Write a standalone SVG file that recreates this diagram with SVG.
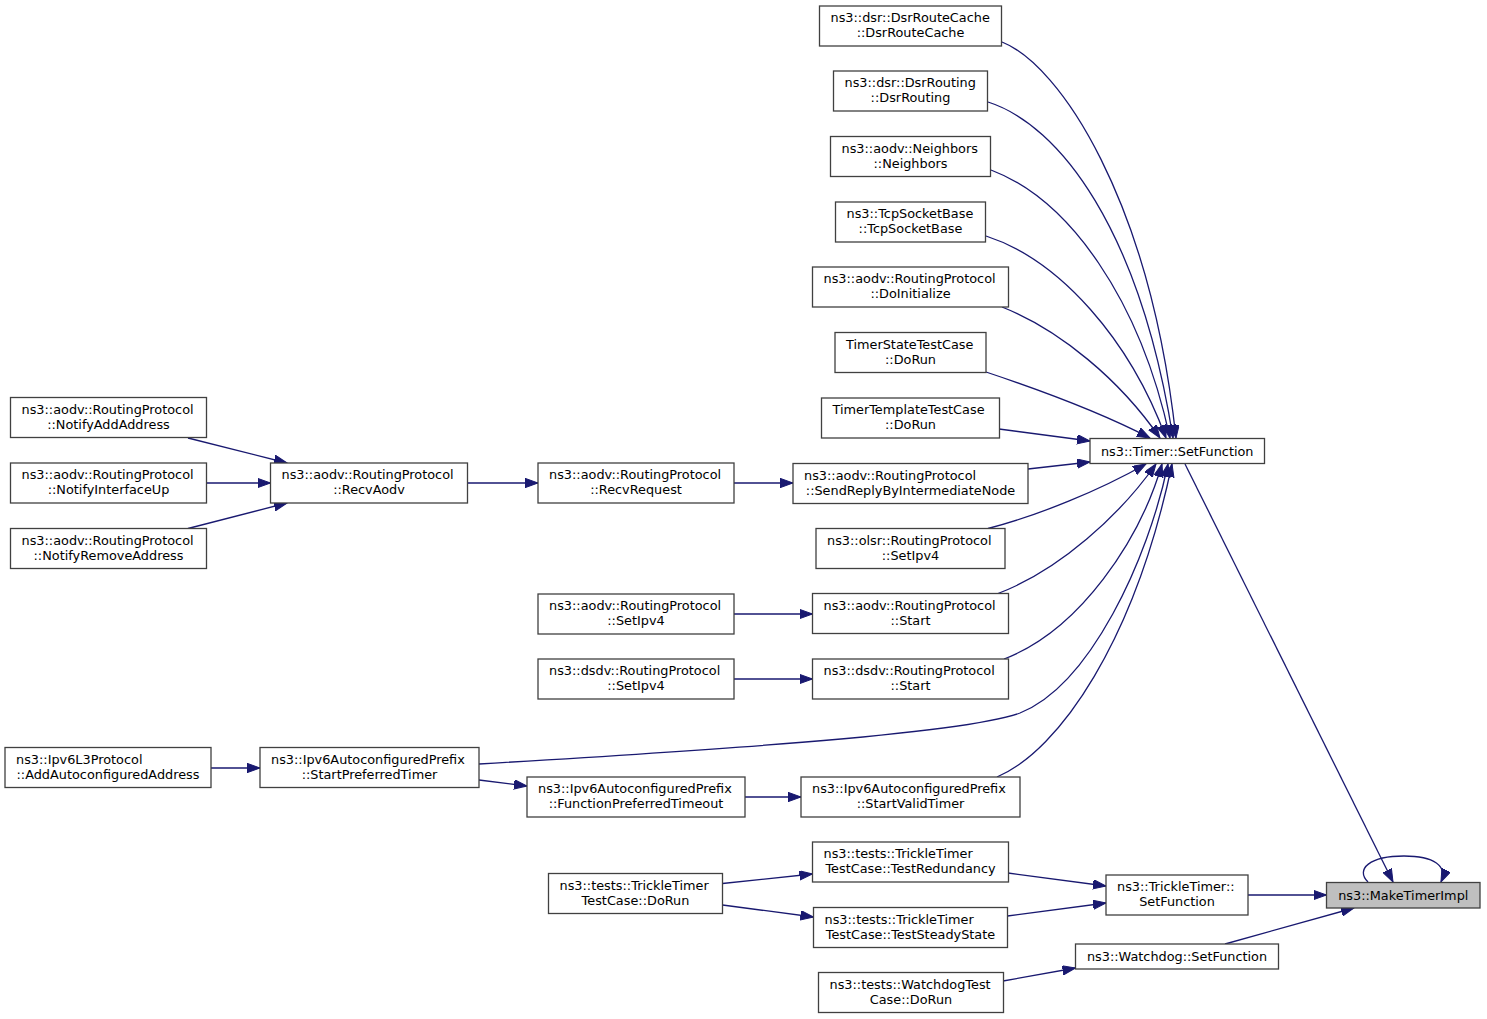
<svg xmlns="http://www.w3.org/2000/svg" width="1487" height="1019" viewBox="0 0 1487 1019">
<style>
.box{fill:#ffffff;stroke:#404040;stroke-width:1.3}
.hl{fill:#bfbfbf;stroke:#404040;stroke-width:1.3}
text{font-family:"DejaVu Sans","Liberation Sans",sans-serif;font-size:12.85px;fill:#000}
.m{text-anchor:middle}
.e{fill:none;stroke:#191970;stroke-width:1.3;marker-end:url(#ah)}
</style>
<defs>
<marker id="ah" markerUnits="userSpaceOnUse" markerWidth="14" markerHeight="10" refX="13" refY="4.7" orient="auto">
<path d="M0,0 L13,4.7 L0,9.4 z" fill="#191970" stroke="#191970" stroke-width="1"/>
</marker>
</defs>
<rect width="1487" height="1019" fill="#ffffff"/>
<g id="edges">
<path class="e" d="M1002,42 C1060,65 1150,200 1176,438"/>
<path class="e" d="M988,102 C1060,125 1140,230 1173,438"/>
<path class="e" d="M991,170 C1070,200 1140,300 1170,438"/>
<path class="e" d="M986,236 C1060,260 1130,340 1166,438"/>
<path class="e" d="M1002,307 C1060,330 1120,380 1160,438"/>
<path class="e" d="M986,372 C1040,390 1100,412 1150,438"/>
<path class="e" d="M999,429 L1090,441"/>
<path class="e" d="M1028,469 L1090,462"/>
<path class="e" d="M988,528.5 C1040,515 1100,490 1146,464"/>
<path class="e" d="M998,593.5 C1060,570 1120,515 1156,464"/>
<path class="e" d="M1004,659 C1080,630 1140,540 1162,464"/>
<path class="e" d="M479,764 C680,752 960,735 1020,713 C1090,685 1148,560 1168,464"/>
<path class="e" d="M997,777 C1060,750 1135,640 1172,464"/>
<path class="e" d="M1185,464 L1393,882"/>
<path class="e" d="M1368,882 C1355,869 1370,856 1404,856 C1434,856 1448,866 1441,882"/>
<path class="e" d="M1248,895 L1326.5,895"/>
<path class="e" d="M1225,944 L1354,908"/>
<path class="e" d="M1008,873 L1106,886"/>
<path class="e" d="M1007.5,916 L1106,903"/>
<path class="e" d="M1003,981 L1075.5,968"/>
<path class="e" d="M722.5,883.5 L812.5,874"/>
<path class="e" d="M722.5,905 L813.5,917"/>
<path class="e" d="M188,438 L287,463"/>
<path class="e" d="M206.5,483 L270.5,483"/>
<path class="e" d="M188,528.5 L287,503"/>
<path class="e" d="M467.5,483 L538,483"/>
<path class="e" d="M734,483 L793,483"/>
<path class="e" d="M734,614 L812.5,614"/>
<path class="e" d="M734,679 L812.5,679"/>
<path class="e" d="M211,768 L260,768"/>
<path class="e" d="M479,780 L527,786"/>
<path class="e" d="M745,797 L801,797"/>
</g>
<g id="n1"><rect class="box" x="819.5" y="6" width="182" height="40"/><text x="830.5" y="22">ns3::dsr::DsrRouteCache</text><text class="m" x="910.5" y="37">::DsrRouteCache</text></g>
<g id="n2"><rect class="box" x="833.5" y="71" width="154" height="40"/><text x="844.5" y="87">ns3::dsr::DsrRouting</text><text class="m" x="910.5" y="102">::DsrRouting</text></g>
<g id="n3"><rect class="box" x="830.5" y="136.5" width="160" height="40"/><text x="841.5" y="152.5">ns3::aodv::Neighbors</text><text class="m" x="910.5" y="167.5">::Neighbors</text></g>
<g id="n4"><rect class="box" x="835.5" y="202" width="150" height="40"/><text x="846.5" y="218">ns3::TcpSocketBase</text><text class="m" x="910.5" y="233">::TcpSocketBase</text></g>
<g id="n5"><rect class="box" x="812.5" y="267" width="196" height="40"/><text x="823.5" y="283">ns3::aodv::RoutingProtocol</text><text class="m" x="910.5" y="298">::DoInitialize</text></g>
<g id="n6"><rect class="box" x="835" y="332.5" width="151" height="40"/><text x="846" y="348.5">TimerStateTestCase</text><text class="m" x="910.5" y="363.5">::DoRun</text></g>
<g id="n7"><rect class="box" x="821.5" y="398" width="178" height="40"/><text x="832.5" y="414">TimerTemplateTestCase</text><text class="m" x="910.5" y="429">::DoRun</text></g>
<g id="n8"><rect class="box" x="793" y="463.5" width="235" height="40"/><text x="804" y="479.5">ns3::aodv::RoutingProtocol</text><text class="m" x="910.5" y="494.5">::SendReplyByIntermediateNode</text></g>
<g id="n9"><rect class="box" x="816" y="528.5" width="189" height="40"/><text x="827" y="544.5">ns3::olsr::RoutingProtocol</text><text class="m" x="910.5" y="559.5">::SetIpv4</text></g>
<g id="n10"><rect class="box" x="812.5" y="593.5" width="196" height="40"/><text x="823.5" y="609.5">ns3::aodv::RoutingProtocol</text><text class="m" x="910.5" y="624.5">::Start</text></g>
<g id="n11"><rect class="box" x="812.5" y="659" width="196" height="40"/><text x="823.5" y="675">ns3::dsdv::RoutingProtocol</text><text class="m" x="910.5" y="690">::Start</text></g>
<g id="n12"><rect class="box" x="801" y="777" width="219" height="40"/><text x="812" y="793">ns3::Ipv6AutoconfiguredPrefix</text><text class="m" x="910.5" y="808">::StartValidTimer</text></g>
<g id="n13"><rect class="box" x="812.5" y="842" width="196" height="40"/><text x="823.5" y="858">ns3::tests::TrickleTimer</text><text class="m" x="910.5" y="873">TestCase::TestRedundancy</text></g>
<g id="n14"><rect class="box" x="813.5" y="907.5" width="194" height="40"/><text x="824.5" y="923.5">ns3::tests::TrickleTimer</text><text class="m" x="910.5" y="938.5">TestCase::TestSteadyState</text></g>
<g id="n15"><rect class="box" x="818.5" y="972.5" width="185" height="40"/><text x="829.5" y="988.5">ns3::tests::WatchdogTest</text><text class="m" x="911" y="1003.5">Case::DoRun</text></g>
<g id="n16"><rect class="box" x="1090" y="438.5" width="174.5" height="25"/><text class="m" x="1177.25" y="455.5">ns3::Timer::SetFunction</text></g>
<g id="n17"><rect class="box" x="1106" y="875" width="142" height="40"/><text x="1117" y="891">ns3::TrickleTimer::</text><text class="m" x="1177" y="906">SetFunction</text></g>
<g id="n18"><rect class="box" x="1075.5" y="944" width="203" height="25"/><text class="m" x="1177" y="961">ns3::Watchdog::SetFunction</text></g>
<g id="n19"><rect class="hl" x="1326.5" y="882.5" width="153.5" height="25.5"/><text class="m" x="1403.25" y="899.5">ns3::MakeTimerImpl</text></g>
<g id="n20"><rect class="box" x="270.5" y="463" width="197" height="40"/><text x="281.5" y="479">ns3::aodv::RoutingProtocol</text><text class="m" x="369" y="494">::RecvAodv</text></g>
<g id="n21"><rect class="box" x="538" y="463" width="196" height="40"/><text x="549" y="479">ns3::aodv::RoutingProtocol</text><text class="m" x="636" y="494">::RecvRequest</text></g>
<g id="n22"><rect class="box" x="10.5" y="397.5" width="196" height="40"/><text x="21.5" y="413.5">ns3::aodv::RoutingProtocol</text><text class="m" x="108.5" y="428.5">::NotifyAddAddress</text></g>
<g id="n23"><rect class="box" x="10.5" y="463" width="196" height="40"/><text x="21.5" y="479">ns3::aodv::RoutingProtocol</text><text class="m" x="108.5" y="494">::NotifyInterfaceUp</text></g>
<g id="n24"><rect class="box" x="10.5" y="528.5" width="196" height="40"/><text x="21.5" y="544.5">ns3::aodv::RoutingProtocol</text><text class="m" x="108.5" y="559.5">::NotifyRemoveAddress</text></g>
<g id="n25"><rect class="box" x="538" y="594" width="196" height="40"/><text x="549" y="610">ns3::aodv::RoutingProtocol</text><text class="m" x="636" y="625">::SetIpv4</text></g>
<g id="n26"><rect class="box" x="538" y="659" width="196" height="40"/><text x="549" y="675">ns3::dsdv::RoutingProtocol</text><text class="m" x="636" y="690">::SetIpv4</text></g>
<g id="n27"><rect class="box" x="5" y="747.5" width="206" height="40"/><text x="16" y="763.5">ns3::Ipv6L3Protocol</text><text class="m" x="108" y="778.5">::AddAutoconfiguredAddress</text></g>
<g id="n28"><rect class="box" x="260" y="747.5" width="219" height="40"/><text x="271" y="763.5">ns3::Ipv6AutoconfiguredPrefix</text><text class="m" x="369.5" y="778.5">::StartPreferredTimer</text></g>
<g id="n29"><rect class="box" x="527" y="777" width="218" height="40"/><text x="538" y="793">ns3::Ipv6AutoconfiguredPrefix</text><text class="m" x="636" y="808">::FunctionPreferredTimeout</text></g>
<g id="n30"><rect class="box" x="548.5" y="873.5" width="174" height="40"/><text x="559.5" y="889.5">ns3::tests::TrickleTimer</text><text class="m" x="635.5" y="904.5">TestCase::DoRun</text></g>
</svg>
